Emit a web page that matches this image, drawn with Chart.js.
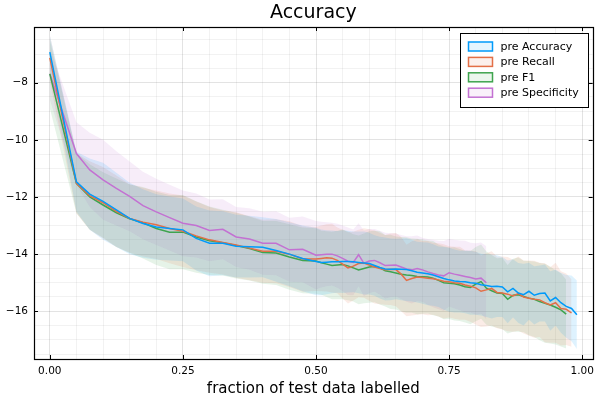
<!DOCTYPE html>
<html lang="en">
<head>
<meta charset="UTF-8">
<title>Accuracy</title>
<script src="https://cdn.jsdelivr.net/npm/chart.js"></script>
<style>
  html, body { margin: 0; padding: 0; background: #fff; }
  #wrap { width: 600px; height: 400px; }
</style>
</head>
<body>
<div id="wrap"><canvas id="chart"></canvas></div>
<script>
// x positions (fraction of test data labelled)
const fracLabelled = [
  0, 0.05, 0.075, 0.1, 0.125, 0.15, 0.175, 0.2, 0.225, 0.25,
  0.275, 0.3, 0.325, 0.35, 0.375, 0.4, 0.425, 0.45, 0.475, 0.5,
  0.51, 0.52, 0.53, 0.54, 0.55, 0.56, 0.57, 0.58, 0.59, 0.6,
  0.61, 0.62, 0.63, 0.64, 0.65, 0.66, 0.67, 0.68, 0.69, 0.7,
  0.71, 0.72, 0.73, 0.74, 0.75, 0.76, 0.77, 0.78, 0.79, 0.8,
  0.81, 0.82, 0.83, 0.84, 0.85, 0.86, 0.87, 0.88, 0.89, 0.9,
  0.91, 0.92, 0.93, 0.94, 0.95, 0.96, 0.97, 0.98, 0.99
];

const accuracyMean = [
  -6.93, -11.47, -11.9, -12.15, -12.45, -12.75, -12.93, -13.05, -13.1, -13.15,
  -13.45, -13.62, -13.62, -13.72, -13.74, -13.76, -13.87, -14.0, -14.15, -14.26,
  -14.29, -14.28, -14.27, -14.27, -14.26, -14.26, -14.27, -14.29, -14.31, -14.33,
  -14.4, -14.47, -14.52, -14.53, -14.52, -14.53, -14.54, -14.58, -14.63, -14.66,
  -14.69, -14.73, -14.79, -14.85, -14.9, -14.94, -14.96, -14.97, -15.0, -15.02,
  -15.07, -15.1, -15.13, -15.12, -15.15, -15.32, -15.2, -15.36, -15.42, -15.3,
  -15.44, -15.38, -15.36, -15.64, -15.52, -15.7, -15.83, -15.9, -16.12
];
const accuracyStd = [
  0.6, 1.05, 1.25, 1.35, 1.3, 1.25, 1.2, 1.15, 1.12, 1.1,
  1.12, 1.15, 1.12, 1.1, 1.08, 1.05, 1.1, 1.12, 1.15, 1.18,
  1.15, 1.12, 1.1, 1.08, 1.1, 1.08, 1.06, 1.08, 1.1, 1.08,
  1.06, 1.08, 1.1, 1.08, 1.06, 1.08, 1.1, 1.08, 1.06, 1.08,
  1.1, 1.08, 1.06, 1.1, 1.12, 1.1, 1.08, 1.1, 1.12, 1.1,
  1.08, 1.1, 1.12, 1.08, 1.05, 1.1, 1.02, 1.05, 1.08, 1.0,
  1.02, 0.98, 1.0, 1.04, 0.98, 1.05, 1.1, 1.15, 1.2
];

const recallMean = [
  -7.13, -11.52, -11.95, -12.2, -12.5, -12.75, -12.88, -12.97, -13.1, -13.2,
  -13.36, -13.5, -13.59, -13.68, -13.79, -13.9, -13.9, -14.0, -14.17, -14.17,
  -14.15, -14.13, -14.14, -14.22, -14.35, -14.48, -14.42, -14.33, -14.31, -14.38,
  -14.45, -14.5, -14.55, -14.53, -14.54, -14.7, -14.92, -14.85, -14.8, -14.82,
  -14.84, -14.86, -14.9, -14.95, -14.97, -15.0, -15.02, -15.08, -15.12, -15.18,
  -15.3, -15.25, -15.2, -15.34, -15.36, -15.4, -15.46, -15.38, -15.5, -15.54,
  -15.58, -15.6, -15.7, -15.78, -15.7, -15.9, -15.93, -16.06
];
const recallStd = [
  0.8, 1.05, 1.2, 1.25, 1.25, 1.2, 1.2, 1.2, 1.22, 1.25,
  1.2, 1.15, 1.12, 1.15, 1.12, 1.1, 1.12, 1.15, 1.15, 1.12,
  1.15, 1.18, 1.2, 1.15, 1.2, 1.25, 1.2, 1.18, 1.22, 1.25,
  1.28, 1.25, 1.22, 1.25, 1.28, 1.3, 1.25, 1.3, 1.32, 1.28,
  1.3, 1.26, 1.28, 1.3, 1.25, 1.26, 1.28, 1.22, 1.25, 1.28,
  1.25, 1.28, 1.3, 1.25, 1.28, 1.3, 1.26, 1.3, 1.28, 1.32,
  1.35, 1.3, 1.38, 1.32, 1.4, 1.3, 1.25, 1.18
];

const f1Mean = [
  -7.69, -11.52, -12.0, -12.28, -12.55, -12.76, -12.9, -13.1, -13.23, -13.23,
  -13.4, -13.53, -13.6, -13.7, -13.8, -13.94, -13.96, -14.1, -14.22, -14.24,
  -14.3, -14.35, -14.4, -14.38, -14.36, -14.41, -14.48, -14.55, -14.5, -14.45,
  -14.43, -14.48, -14.58, -14.62, -14.66, -14.7, -14.73, -14.75, -14.78, -14.79,
  -14.8, -14.84, -14.92, -15.0, -15.02, -15.04, -15.08, -15.14, -15.17, -15.05,
  -14.96, -15.19, -15.28, -15.36, -15.38, -15.58, -15.44, -15.42, -15.48, -15.54,
  -15.58, -15.66, -15.72, -15.78, -15.86, -15.95, -16.1
];
const f1Std = [
  1.2, 1.05, 1.15, 1.15, 1.2, 1.2, 1.25, 1.28, 1.3, 1.3,
  1.25, 1.2, 1.15, 1.15, 1.12, 1.1, 1.12, 1.15, 1.15, 1.15,
  1.12, 1.15, 1.18, 1.2, 1.22, 1.2, 1.18, 1.2, 1.22, 1.25,
  1.25, 1.28, 1.25, 1.3, 1.28, 1.3, 1.32, 1.3, 1.32, 1.3,
  1.28, 1.3, 1.26, 1.28, 1.25, 1.28, 1.26, 1.25, 1.28, 1.3,
  1.3, 1.28, 1.25, 1.22, 1.25, 1.2, 1.28, 1.3, 1.25, 1.3,
  1.32, 1.35, 1.38, 1.35, 1.3, 1.28, 1.2
];

const specificityMean = [
  -7.69, -10.48, -11.05, -11.4, -11.7, -11.98, -12.3, -12.52, -12.72, -12.92,
  -13.0, -13.17, -13.13, -13.4, -13.47, -13.62, -13.62, -13.85, -13.83, -14.04,
  -14.02, -14.0, -14.0, -14.06, -14.15, -14.25, -14.29, -14.02, -14.32, -14.24,
  -14.22, -14.3, -14.4, -14.39, -14.38, -14.45, -14.52, -14.55, -14.5, -14.55,
  -14.62, -14.68, -14.73, -14.76, -14.65, -14.7, -14.74, -14.78, -14.82, -14.87,
  -14.84, -15.0
];
const specificityStd = [
  0.9, 1.1, 1.3, 1.4, 1.3, 1.22, 1.18, 1.16, 1.15, 1.15,
  1.12, 1.08, 1.05, 1.05, 1.08, 1.1, 1.12, 1.12, 1.15, 1.2,
  1.15, 1.12, 1.1, 1.12, 1.15, 1.18, 1.15, 1.1, 1.15, 1.12,
  1.1, 1.12, 1.15, 1.12, 1.1, 1.12, 1.15, 1.18, 1.15, 1.12,
  1.15, 1.18, 1.2, 1.22, 1.18, 1.2, 1.22, 1.25, 1.22, 1.25,
  1.25, 1.28
];

const seriesLabels = ['pre Accuracy', 'pre Recall', 'pre F1', 'pre Specificity'];
const xTickLabels = ['0.00', '0.25', '0.50', '0.75', '1.00'];
const xTickValues = [0, 0.25, 0.5, 0.75, 1];
const yTickValues = [-16, -14, -12, -10, -8];

// Plots.jl default palette
const palette = ['0, 154, 250', '227, 111, 71', '62, 164, 78', '195, 113, 210'];
const FILL_ALPHA = 0.13;
const FONT = '"DejaVu Sans", "Liberation Sans", sans-serif';

const series = [
  { mean: accuracyMean, std: accuracyStd },
  { mean: recallMean, std: recallStd },
  { mean: f1Mean, std: f1Std },
  { mean: specificityMean, std: specificityStd },
];

const datasets = [];
// ribbons first (mean +- std)
series.forEach((s, k) => {
  const lowIdx = datasets.length;
  datasets.push({
    label: '_low' + k,
    data: s.mean.map((m, i) => ({ x: fracLabelled[i], y: m - s.std[i] })),
    borderWidth: 0, pointRadius: 0, fill: false, order: 3
  });
  datasets.push({
    label: '_high' + k,
    data: s.mean.map((m, i) => ({ x: fracLabelled[i], y: m + s.std[i] })),
    borderWidth: 0, pointRadius: 0, order: 2,
    fill: lowIdx,
    backgroundColor: `rgba(${palette[k]}, ${FILL_ALPHA})`
  });
});
// mean lines
series.forEach((s, k) => {
  datasets.push({
    label: seriesLabels[k],
    data: s.mean.map((m, i) => ({ x: fracLabelled[i], y: m })),
    borderColor: `rgb(${palette[k]})`,
    borderWidth: 1.5, pointRadius: 0, fill: false, order: 1,
    tension: 0
  });
});

const isMajor = (v, list) => list.some(t => Math.abs(t - v) < 1e-6);

function minorTicks(from, to, step) {
  const out = [];
  const n = Math.round((to - from) / step);
  for (let i = 0; i <= n; i++) out.push({ value: +(from + i * step).toFixed(4) });
  return out;
}

// title centred over the plot area, like Plots.jl
const centreTitle = {
  id: 'centreTitle',
  afterLayout(chart) {
    const t = chart.titleBlock;
    if (t) { t.left = chart.chartArea.left; t.right = chart.chartArea.right; }
  }
};

// box frame, inward tick marks and the legend inside the plot
const frameAndLegend = {
  id: 'frameAndLegend',
  afterDraw(chart) {
    const { ctx, chartArea: a, scales } = chart;
    ctx.save();
    ctx.strokeStyle = '#000';
    ctx.lineWidth = 1;
    const tl = 4;
    ctx.beginPath();
    xTickValues.forEach(v => {
      const px = Math.round(scales.x.getPixelForValue(v)) + 0.5;
      ctx.moveTo(px, a.bottom); ctx.lineTo(px, a.bottom - tl);
      ctx.moveTo(px, a.top); ctx.lineTo(px, a.top + tl);
    });
    yTickValues.forEach(v => {
      const py = Math.round(scales.y.getPixelForValue(v)) + 0.5;
      ctx.moveTo(a.left, py); ctx.lineTo(a.left + tl, py);
      ctx.moveTo(a.right, py); ctx.lineTo(a.right - tl, py);
    });
    ctx.stroke();
    ctx.lineWidth = 1.2;
    ctx.strokeRect(Math.round(a.left) + 0.5, Math.round(a.top) + 0.5,
      Math.round(a.right - a.left), Math.round(a.bottom - a.top));

    // legend
    const bw = 128, bh = 74;
    const bx = Math.round(a.right - 5 - bw) + 0.5, by = Math.round(a.top + 6) + 0.5;
    ctx.fillStyle = '#fff';
    ctx.fillRect(bx, by, bw, bh);
    ctx.lineWidth = 1;
    ctx.strokeStyle = '#000';
    ctx.strokeRect(bx, by, bw, bh);
    ctx.font = '11px ' + FONT;
    ctx.textBaseline = 'middle';
    seriesLabels.forEach((lab, k) => {
      const cy = by + 13 + k * 15.4;
      ctx.fillStyle = `rgba(${palette[k]}, 0.1)`;
      ctx.fillRect(bx + 8, cy - 4.5, 24, 9);
      ctx.strokeStyle = `rgb(${palette[k]})`;
      ctx.lineWidth = 1.5;
      ctx.strokeRect(bx + 8, cy - 4.5, 24, 9);
      ctx.fillStyle = '#000';
      ctx.fillText(lab, bx + 40, cy + 0.5);
    });
    ctx.restore();
  }
};

Chart.defaults.font.family = FONT;
Chart.defaults.color = '#000';

new Chart(document.getElementById('chart'), {
  type: 'line',
  data: { datasets },
  plugins: [centreTitle, frameAndLegend],
  options: {
    responsive: true,
    maintainAspectRatio: false,
    animation: false,
    layout: { padding: { top: 0, right: 6, bottom: 0, left: 0 } },
    plugins: {
      legend: { display: false },
      tooltip: { enabled: false },
      filler: { drawTime: 'beforeDatasetsDraw' },
      title: {
        display: true,
        text: 'Accuracy',
        color: '#000',
        font: { size: 19, weight: 'normal', family: FONT },
        padding: { top: 2, bottom: 2.2 }
      }
    },
    scales: {
      x: {
        type: 'linear',
        min: -0.0297,
        max: 1.0197,
        afterFit(scale) { scale.height = 41; },
        afterBuildTicks(scale) { scale.ticks = minorTicks(0, 1, 0.05); },
        ticks: {
          autoSkip: false, maxRotation: 0, padding: 6,
          font: { size: 10.5 },
          callback(v) {
            const i = xTickValues.findIndex(t => Math.abs(t - v) < 1e-6);
            return i >= 0 ? xTickLabels[i] : '';
          }
        },
        grid: {
          drawTicks: false,
          lineWidth: 1,
          color: ctx => isMajor(ctx.tick.value, xTickValues) ? 'rgba(0,0,0,0.11)' : 'rgba(0,0,0,0.05)'
        },
        border: { display: false },
        title: {
          display: true,
          text: 'fraction of test data labelled',
          font: { size: 15 },
          padding: { top: 0, bottom: 2 }
        }
      },
      y: {
        type: 'linear',
        min: -17.67,
        max: -6.05,
        afterFit(scale) { scale.width = 34; },
        afterBuildTicks(scale) { scale.ticks = minorTicks(-17.5, -6.5, 0.5); },
        ticks: {
          autoSkip: false, padding: 6,
          font: { size: 10.5 },
          callback(v) {
            return isMajor(v, yTickValues) ? '\u2212' + Math.abs(Math.round(v)) : '';
          }
        },
        grid: {
          drawTicks: false,
          lineWidth: 1,
          color: ctx => isMajor(ctx.tick.value, yTickValues) ? 'rgba(0,0,0,0.11)' : 'rgba(0,0,0,0.05)'
        },
        border: { display: false }
      }
    }
  }
});
</script>
</body>
</html>
